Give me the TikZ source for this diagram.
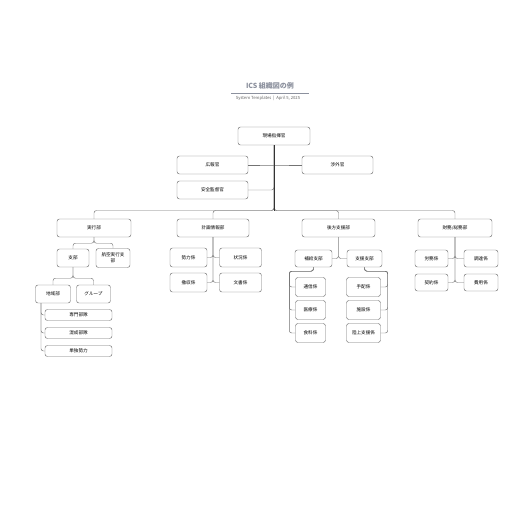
\documentclass[tikz,border=0pt]{standalone}
\usepackage{fontspec}
\setmainfont{Noto Sans CJK JP}
\newfontfamily\jpfont{Noto Sans CJK JP}
\usepackage{tikz}
\usetikzlibrary{positioning,calc}
\usepackage{xcolor}
\definecolor{linegray}{rgb}{0.45,0.45,0.45}
\definecolor{titlegray}{rgb}{0.55,0.57,0.62}
\tikzset{
  post/.style  ={rectangle, rounded corners=2.5pt, draw=black!55, fill=white,
                 align=center, font=\jpfont\fontsize{4.6}{5.8}\selectfont,
                 minimum height=18pt, inner sep=1pt, line width=0.45pt},
  postS/.style ={post, minimum height=11pt},
  link/.style  ={draw=linegray, line width=0.45pt, rounded corners=2.5pt},
  trunk/.style ={draw=black!80, line width=0.9pt},
}

\begin{document}
\begin{tikzpicture}[x=1pt, y=-1pt]
  \useasboundingbox[fill=white] (0,0) rectangle (516,516);
  % title
  \node[font=\jpfont\bfseries\fontsize{7}{8}\selectfont, text=titlegray] (title) at (270,85.5) {ICS 組織図の例};
  \coordinate (ruleL) at (231,93);
  \coordinate (ruleR) at (309,93);
  \draw[titlegray, line width=0.6pt] (ruleL) -- (ruleR);
  \node[font=\jpfont\fontsize{4.2}{5}\selectfont, text=black!60] (sub) at (268,98.5) {System Templates \ | \ April 5, 2025};

  % command staff
  \node[post, minimum width=72pt] (cmd) at (274,136) {現場指揮官};
  \node[post, minimum width=71pt] (pio) at (212.5,165) {広報官};
  \node[post, minimum width=71pt] (lia) at (337.5,165) {渉外官};
  \node[post, minimum width=71pt] (saf) at (212.5,190) {安全監督官};
  \coordinate (hub) at (274,210.5);
  \draw[link] (pio.east) -- (cmd.south |- pio.east) -- (lia.west);
  \draw[link] (saf.east) -| ($(cmd.south |- saf.east)+(0,-3)$);

  % sections
  \node[post, minimum width=74pt] (ops) at (94,228) {実行部};
  \node[post, minimum width=72pt] (pln) at (213,228) {計画情報部};
  \node[post, minimum width=73pt] (log) at (338.5,228) {後方支援部};
  \node[post, minimum width=74pt] (fin) at (455,228) {財務/総務部};
  \draw[link] (cmd.south) -- (hub) -| (ops.north);
  \draw[link] (cmd.south) -- (hub) -| (pln.north);
  \draw[link] (cmd.south) -- (hub) -| (log.north);
  \draw[link] (cmd.south) -- (hub) -| (fin.north);
  \draw[trunk] (cmd.south) -- (hub);

  % operations
  \node[post, minimum width=32pt] (br)  at (73,258) {支部};
  \node[post, minimum width=34pt, minimum height=19pt] (air) at (113,258) {航空実行支\\部};
  \draw[link] (ops.south) -- ++(0,6) -| (br.north);
  \draw[link] (ops.south) -- ++(0,6) -| (air.north);
  \node[post, minimum width=35pt] (div) at (53,294) {地域部};
  \node[post, minimum width=34pt] (grp) at (93.5,294) {グループ};
  \draw[link] (br.south) -- ++(0,11) -| (div.north);
  \draw[link] (br.south) -- ++(0,11) -| (grp.north);
  \node[postS, minimum width=67pt] (stk) at (78.5,315) {専門部隊};
  \node[postS, minimum width=67pt] (tfc) at (78.5,333) {混成部隊};
  \node[postS, minimum width=67pt] (sgl) at (78.5,351) {単独勢力};
  \foreach \u in {stk,tfc,sgl}
    \draw[link] ([xshift=-12pt]div.south) |- (\u.west);

  % planning
  \node[post, minimum width=37pt, minimum height=19pt] (res) at (188.5,257.5) {勢力係};
  \node[post, minimum width=42pt, minimum height=19pt] (sit) at (240.5,257.5) {状況係};
  \node[post, minimum width=37pt, minimum height=19pt] (dem) at (188.5,282.5) {撤収係};
  \node[post, minimum width=42pt, minimum height=19pt] (doc) at (240.5,282.5) {文書係};
  \draw[link] (pln.south) |- (res.east);
  \draw[link] (pln.south) |- (sit.west);
  \draw[link] (pln.south) |- (dem.east);
  \draw[link] (pln.south) |- (doc.west);

  % logistics
  \node[post, minimum width=37pt, minimum height=17pt] (svc) at (313.5,258.5) {補給支部};
  \node[post, minimum width=35pt, minimum height=17pt] (sup) at (364.5,258.5) {支援支部};
  \draw[link] (log.south) |- (svc.east);
  \draw[link] (log.south) |- (sup.west);
  \node[post, minimum width=30pt, minimum height=19pt] (com)  at (310.5,287) {通信係};
  \node[post, minimum width=30pt, minimum height=19pt] (med)  at (310.5,310) {医療係};
  \node[post, minimum width=30pt, minimum height=19pt] (food) at (310.5,333) {食料係};
  \node[post, minimum width=34pt, minimum height=19pt] (spl)  at (363.5,287) {手配係};
  \node[post, minimum width=34pt, minimum height=19pt] (fac)  at (363.5,310) {施設係};
  \node[post, minimum width=34pt, minimum height=19pt] (gnd)  at (363.5,333) {陸上支援係};
  \foreach \u in {com,med,food}
    \draw[link] (svc.south) -- ++(0,4) -| ([xshift=-6pt]\u.west) -- (\u.west);
  \foreach \u in {spl,fac,gnd}
    \draw[link] (sup.south) -- ++(0,4) -| ([xshift=7pt]\u.east) -- (\u.east);

  % finance
  \node[post, minimum width=33pt, minimum height=17pt] (tme)  at (431.5,258.5) {労務係};
  \node[post, minimum width=34pt, minimum height=17pt] (prc)  at (481,258.5) {調達係};
  \node[post, minimum width=33pt, minimum height=17pt] (cmp)  at (431.5,282.5) {契約係};
  \node[post, minimum width=34pt, minimum height=17pt] (cst)  at (481,282.5) {費用係};
  \draw[link] (fin.south) |- (tme.east);
  \draw[link] (fin.south) |- (prc.west);
  \draw[link] (fin.south) |- (cmp.east);
  \draw[link] (fin.south) |- (cst.west);
\end{tikzpicture}
\end{document}
